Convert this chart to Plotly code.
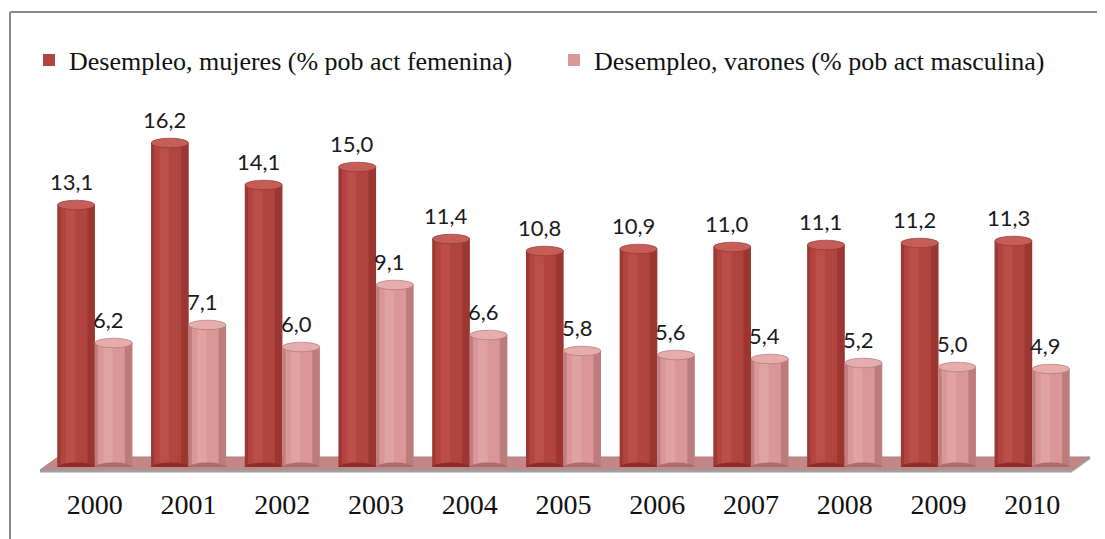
import plotly.graph_objects as go

years = ["2000", "2001", "2002", "2003", "2004", "2005", "2006", "2007", "2008", "2009", "2010"]
mujeres = [13.1, 16.2, 14.1, 15.0, 11.4, 10.8, 10.9, 11.0, 11.1, 11.2, 11.3]
varones = [6.2, 7.1, 6.0, 9.1, 6.6, 5.8, 5.6, 5.4, 5.2, 5.0, 4.9]
name_m = "Desempleo, mujeres (% pob act femenina)"
name_v = "Desempleo, varones (% pob act masculina)"

W, H = 1105, 539
OFF = 8  # page body margin of the html page
PL, PR, PT, PB = 48, 1079, 107, 467
L, T = PL - OFF, PT - OFF
R, B = W - (PR - OFF), H - (PB - OFF)
PW, PH = PR - PL, PB - PT

def px(x):
    return (x - PL) / PW

def py(y):
    return (PB - y) / PH

xs = list(range(len(years)))
bw = 0.40

series = [
    (name_m, mujeres, -bw, "#B2443F", "#8C2D29", "#C65C57", "#C55E59"),
    (name_v, varones, 0.0, "#DB9797", "#A96B6B", "#E8B0B0", "#E6ADAD"),
]

fig = go.Figure()
shapes = []
annotations = []

# floor
shapes.append(dict(type="path", xref="paper", yref="paper", layer="below",
                   path=f"M {px(40)},{py(470)} L {px(1072)},{py(470)} L {px(1090)},{py(457)} L {px(58)},{py(457)} Z",
                   fillcolor="#C48787", line=dict(color="#A98080", width=1)))
shapes.append(dict(type="line", xref="paper", yref="paper", layer="below",
                   x0=px(40), y0=py(471), x1=px(1072), y1=py(471),
                   line=dict(color="#A0A0A0", width=3)))
shapes.append(dict(type="line", xref="paper", yref="paper", layer="below",
                   x0=px(1072), y0=py(471), x1=px(1090), y1=py(458),
                   line=dict(color="#A0A0A0", width=2)))

for name, vals, off, base, dark, light, cap in series:
    fig.add_trace(go.Bar(x=xs, y=vals, name=name, offset=off, width=bw,
                         marker=dict(color=base, line=dict(width=0)),
                         hoverinfo="y"))
    fig.add_trace(go.Bar(x=xs, y=vals, offset=off, width=0.035, showlegend=False,
                         marker=dict(color=dark, opacity=0.55, line=dict(width=0)), hoverinfo="skip"))
    fig.add_trace(go.Bar(x=xs, y=vals, offset=off + 0.09, width=0.10, showlegend=False,
                         marker=dict(color=light, opacity=0.45, line=dict(width=0)), hoverinfo="skip"))
    fig.add_trace(go.Bar(x=xs, y=vals, offset=off + bw - 0.08, width=0.08, showlegend=False,
                         marker=dict(color=dark, opacity=0.6, line=dict(width=0)), hoverinfo="skip"))
    for i, v in zip(xs, vals):
        shapes.append(dict(type="circle", xref="x", yref="y", layer="above",
                           x0=i + off, x1=i + off + bw, y0=-0.22, y1=0.22,
                           fillcolor=dark, line=dict(width=0)))
        shapes.append(dict(type="circle", xref="x", yref="y", layer="above",
                           x0=i + off, x1=i + off + bw, y0=v - 0.24, y1=v + 0.24,
                           fillcolor=cap, line=dict(color=dark, width=0.6)))
        annotations.append(dict(x=i + off + bw / 2, y=v, xref="x", yref="y",
                                text=f"{v:.1f}".replace(".", ","), showarrow=False,
                                xshift=-5, yshift=24,
                                font=dict(family="Lato, Liberation Sans, sans-serif", size=22, color="#1a1a1a")))

# chart border
shapes.append(dict(type="line", xref="paper", yref="paper", x0=px(10), y0=py(12), x1=px(1120), y1=py(12),
                   line=dict(color="#8A8A8A", width=2)))
shapes.append(dict(type="line", xref="paper", yref="paper", x0=px(10), y0=py(12), x1=px(10), y1=py(560),
                   line=dict(color="#8A8A8A", width=2)))

fig.update_layout(
    width=W, height=H,
    margin=dict(l=L, r=R, t=T, b=B, autoexpand=False),
    paper_bgcolor="white", plot_bgcolor="white",
    barmode="overlay",
    shapes=shapes, annotations=annotations,
    showlegend=True,
    legend=dict(orientation="h", x=px(29), y=py(60), xanchor="left", yanchor="middle",
                font=dict(family="Liberation Serif, Times New Roman, serif", size=26, color="#111"),
                itemwidth=30, entrywidth=480, tracegroupgap=0, bgcolor="rgba(0,0,0,0)"),
    xaxis=dict(tickmode="array", tickvals=xs, ticktext=years, range=[-0.5, len(years) - 0.5],
               showgrid=False, zeroline=False, showline=False, ticks="", ticklabelstandoff=18,
               tickfont=dict(family="Liberation Serif, Times New Roman, serif", size=28, color="#111")),
    yaxis=dict(range=[0, 18], visible=False, showgrid=False, zeroline=False),
)

fig.write_html("out.html")
